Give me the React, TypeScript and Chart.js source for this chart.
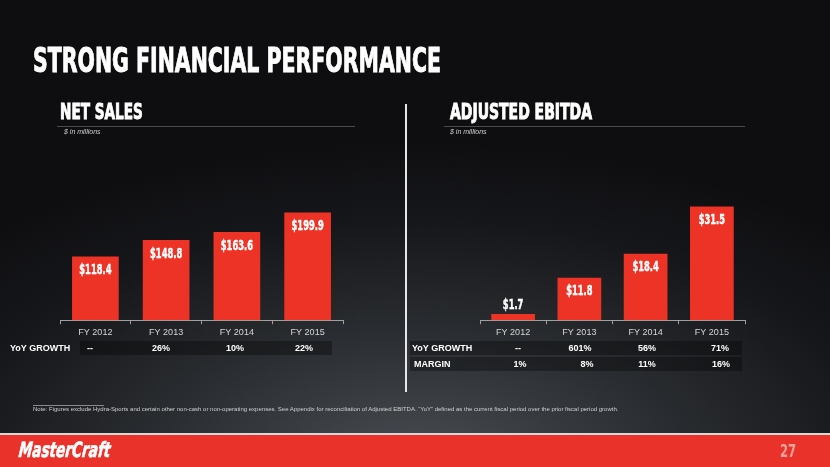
import React, { useEffect, useRef } from "react";
import { Chart, registerables } from "chart.js";

Chart.register(...registerables);

// ---------- data ----------
const categories = ["FY 2012", "FY 2013", "FY 2014", "FY 2015"];
const netSales = [118.4, 148.8, 163.6, 199.9];
const adjustedEbitda = [1.7, 11.8, 18.4, 31.5];
const netSalesGrowth = ["--", "26%", "10%", "22%"];
const ebitdaGrowth = ["--", "601%", "56%", "71%"];
const ebitdaMargin = ["1%", "8%", "11%", "16%"];

// ---------- style ----------
const RED = "#ec3325";
const CONDENSED = "'Liberation Sans Narrow', 'DejaVu Sans Condensed', 'Arial Narrow', sans-serif";
const SANS = "'Liberation Sans', Arial, sans-serif";
const LABEL_SQUEEZE = 0.66;

const valueLabelPlugin = {
  id: "valueLabels",
  afterDatasetsDraw(chart: any) {
    const ctx = chart.ctx;
    const meta = chart.getDatasetMeta(0);
    const data = chart.data.datasets[0].data as number[];
    ctx.save();
    ctx.fillStyle = "#ffffff";
    ctx.strokeStyle = "#ffffff";
    ctx.lineWidth = 0.5;
    ctx.font = `bold 14px ${CONDENSED}`;
    ctx.textAlign = "center";
    meta.data.forEach((bar: any, i: number) => {
      const p = bar.getProps(["x", "y", "base"], true);
      const h = p.base - p.y;
      const text = "$" + data[i].toFixed(1);
      const above = h < 24;
      const ty = above ? p.y - 2 : p.y + 7;
      ctx.textBaseline = above ? "bottom" : "top";
      ctx.save();
      ctx.translate(p.x, ty);
      ctx.scale(LABEL_SQUEEZE, 1);
      ctx.fillText(text, 0, 0);
      ctx.strokeText(text, 0, 0);
      ctx.restore();
    });
    ctx.restore();
  },
};

type BarProps = {
  left: number;
  top: number;
  width: number;
  height: number;
  values: number[];
  max: number;
  pad: { left: number; right: number; top: number; bottom: number };
};

function BarChart({ left, top, width, height, values, max, pad }: BarProps) {
  const ref = useRef<HTMLCanvasElement | null>(null);
  useEffect(() => {
    if (!ref.current) return;
    const chart = new Chart(ref.current, {
      type: "bar",
      data: {
        labels: categories,
        datasets: [
          {
            data: values,
            backgroundColor: RED,
            borderWidth: 0,
            barPercentage: 0.66,
            categoryPercentage: 1,
          },
        ],
      },
      options: {
        animation: false,
        responsive: false,
        devicePixelRatio: 1,
        layout: { padding: pad },
        plugins: { legend: { display: false }, tooltip: { enabled: false } },
        scales: {
          x: {
            grid: {
              display: true,
              drawOnChartArea: false,
              drawTicks: true,
              tickLength: 4,
              color: "#a0a0a0",
              offset: true,
            },
            border: { color: "#a0a0a0", width: 1 },
            ticks: {
              color: "#d6d6d6",
              font: { family: SANS, size: 9 },
              padding: 3,
              maxRotation: 0,
            },
          },
          y: { display: false, min: 0, max },
        },
      },
      plugins: [valueLabelPlugin],
    });
    return () => chart.destroy();
  }, []);
  return (
    <canvas
      ref={ref}
      width={width}
      height={height}
      style={{ position: "absolute", left, top, width, height }}
    />
  );
}

const abs = (s: React.CSSProperties): React.CSSProperties => ({ position: "absolute", ...s });

function Heading({ text, left, top, size, scale }: { text: string; left: number; top: number; size: number; scale: number }) {
  return (
    <div
      style={abs({
        left,
        top,
        fontFamily: CONDENSED,
        fontWeight: 700,
        fontSize: size,
        lineHeight: 1,
        color: "#fff",
        whiteSpace: "nowrap",
        transform: `scaleX(${scale})`,
        transformOrigin: "left top",
        WebkitTextStroke: "0.9px #fff",
      })}
    >
      {text}
    </div>
  );
}

function Row({
  label,
  labelLeft,
  values,
  centers,
  bandLeft,
  bandRight,
  top,
}: {
  label: string;
  labelLeft: number;
  values: string[];
  centers: number[];
  bandLeft: number;
  bandRight: number;
  top: number;
}) {
  return (
    <>
      <div style={abs({ left: bandLeft, top, width: bandRight - bandLeft, height: 14, background: "rgba(0,0,0,0.32)" })} />
      <div style={abs({ left: labelLeft, top, height: 14, lineHeight: "14px", fontFamily: SANS, fontWeight: 700, fontSize: 9, color: "#fff", whiteSpace: "nowrap" })}>
        {label}
      </div>
      {values.map((v, i) => (
        <div
          key={i}
          style={abs({ left: centers[i] - 30, width: 60, top, height: 14, lineHeight: "14px", textAlign: "center", fontFamily: SANS, fontWeight: 700, fontSize: 9, color: "#fff" })}
        >
          {v}
        </div>
      ))}
    </>
  );
}

export default function App() {
  return (
    <div
      style={{
        position: "fixed",
        left: 0,
        top: 0,
        width: 830,
        height: 467,
        overflow: "hidden",
        background: "radial-gradient(ellipse 75% 70% at 50% 100%, #4a4f55 0%, #2b2e32 40%, #16171a 75%, #0e0e11 100%)",
      }}
    >
      <Heading text="STRONG FINANCIAL PERFORMANCE" left={33} top={43} size={34} scale={0.67} />

      <Heading text="NET SALES" left={60} top={102} size={21} scale={0.72} />
      <div style={abs({ left: 57, top: 126, width: 298, height: 1, background: "#4a4a4e" })} />
      <div style={abs({ left: 64, top: 128, fontFamily: SANS, fontStyle: "italic", fontSize: 7, color: "#cfcfcf" })}>$ in millions</div>

      <Heading text="ADJUSTED EBITDA" left={450} top={102} size={21} scale={0.74} />
      <div style={abs({ left: 444, top: 126, width: 301, height: 1, background: "#4a4a4e" })} />
      <div style={abs({ left: 450, top: 128, fontFamily: SANS, fontStyle: "italic", fontSize: 7, color: "#cfcfcf" })}>$ in millions</div>

      <div style={abs({ left: 405, top: 104, width: 2, height: 288, background: "#e6e6e6" })} />

      <BarChart left={40} top={150} width={320} height={195} values={netSales} max={212} pad={{ left: 20, right: 17, top: 56, bottom: 4 }} />
      <BarChart left={460} top={150} width={300} height={195} values={adjustedEbitda} max={35} pad={{ left: 20, right: 15, top: 44, bottom: 4 }} />

      <Row label="YoY GROWTH" labelLeft={10} values={netSalesGrowth} centers={[90, 161, 235, 304]} bandLeft={80} bandRight={332} top={341} />
      <Row label="YoY GROWTH" labelLeft={412} values={ebitdaGrowth} centers={[518, 580, 647, 720]} bandLeft={410} bandRight={742} top={341} />
      <Row label="MARGIN" labelLeft={414} values={ebitdaMargin} centers={[520, 587, 647, 721]} bandLeft={410} bandRight={742} top={357} />

      <div style={abs({ left: 33, top: 405, width: 71, height: 1, background: "#8a8a8a" })} />
      <div style={abs({ left: 33, top: 406, fontFamily: SANS, fontSize: 6, color: "#d0d0d0", whiteSpace: "nowrap" })}>
        Note: Figures exclude Hydra-Sports and certain other non-cash or non-operating expenses. See Appendix for reconciliation of Adjusted EBITDA. “YoY” defined as the current fiscal period over the prior fiscal period growth.
      </div>

      <div style={abs({ left: 0, top: 433, width: 830, height: 2, background: "#d9d9d9" })} />
      <div style={abs({ left: 0, top: 435, width: 830, height: 32, background: "#e8322a" })} />
      <div
        style={abs({
          left: 20,
          top: 440,
          fontFamily: CONDENSED,
          fontWeight: 700,
          fontStyle: "italic",
          fontSize: 21,
          lineHeight: 1,
          color: "#fff",
          whiteSpace: "nowrap",
          transform: "scaleX(0.72) skewX(-8deg)",
          transformOrigin: "left top",
          WebkitTextStroke: "0.6px #fff",
        })}
      >
        MasterCraft
      </div>
      <div
        style={abs({
          left: 780,
          top: 442,
          fontFamily: CONDENSED,
          fontWeight: 700,
          fontSize: 18,
          lineHeight: 1,
          color: "#f6a39b",
          transform: "scaleX(0.72)",
          transformOrigin: "left top",
        })}
      >
        27
      </div>
    </div>
  );
}
